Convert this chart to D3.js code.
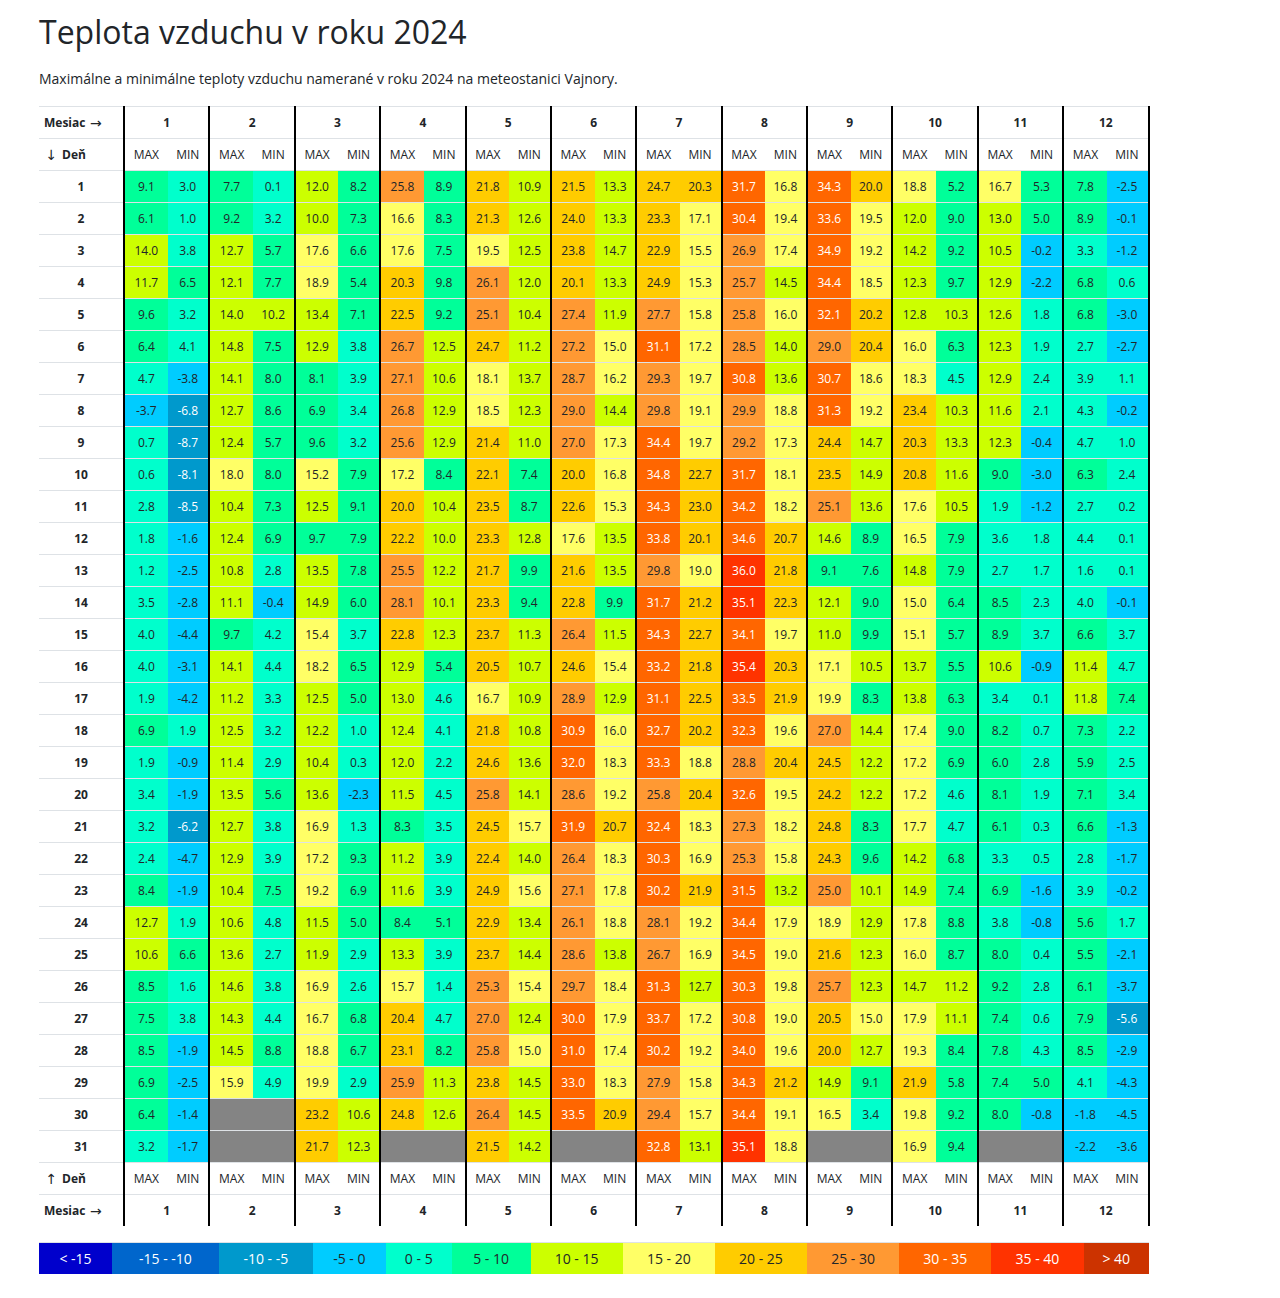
<!DOCTYPE html>
<html lang="sk">
<head>
<meta charset="utf-8">
<title>Teplota vzduchu v roku 2024</title>
<script src="https://cdn.jsdelivr.net/npm/d3@7"></script>
<style>
  html, body { margin: 0; padding: 0; background: #fff; overflow: hidden; }
  svg { display: block; font-family: "Open Sans", sans-serif; }
  text { fill: #212529; }
  .bold { font-weight: 700; }
  .arrow { font-family: "DejaVu Sans", sans-serif; font-size: 14px; }
</style>
</head>
<body>
<div id="chart"></div>
<script>
const titleText = "Teplota vzduchu v roku 2024";
const subtitleText = "Maximálne a minimálne teploty vzduchu namerané v roku 2024 na meteostanici Vajnory.";

const months = ["1", "2", "3", "4", "5", "6", "7", "8", "9", "10", "11", "12"];
const days = d3.range(1, 32).map(String);

const jan = { max: [9.1,6.1,14.0,11.7,9.6,6.4,4.7,-3.7,0.7,0.6,2.8,1.8,1.2,3.5,4.0,4.0,1.9,6.9,1.9,3.4,3.2,2.4,8.4,12.7,10.6,8.5,7.5,8.5,6.9,6.4,3.2],
  min: [3.0,1.0,3.8,6.5,3.2,4.1,-3.8,-6.8,-8.7,-8.1,-8.5,-1.6,-2.5,-2.8,-4.4,-3.1,-4.2,1.9,-0.9,-1.9,-6.2,-4.7,-1.9,1.9,6.6,1.6,3.8,-1.9,-2.5,-1.4,-1.7] };
const feb = { max: [7.7,9.2,12.7,12.1,14.0,14.8,14.1,12.7,12.4,18.0,10.4,12.4,10.8,11.1,9.7,14.1,11.2,12.5,11.4,13.5,12.7,12.9,10.4,10.6,13.6,14.6,14.3,14.5,15.9],
  min: [0.1,3.2,5.7,7.7,10.2,7.5,8.0,8.6,5.7,8.0,7.3,6.9,2.8,-0.4,4.2,4.4,3.3,3.2,2.9,5.6,3.8,3.9,7.5,4.8,2.7,3.8,4.4,8.8,4.9] };
const mar = { max: [12.0,10.0,17.6,18.9,13.4,12.9,8.1,6.9,9.6,15.2,12.5,9.7,13.5,14.9,15.4,18.2,12.5,12.2,10.4,13.6,16.9,17.2,19.2,11.5,11.9,16.9,16.7,18.8,19.9,23.2,21.7],
  min: [8.2,7.3,6.6,5.4,7.1,3.8,3.9,3.4,3.2,7.9,9.1,7.9,7.8,6.0,3.7,6.5,5.0,1.0,0.3,-2.3,1.3,9.3,6.9,5.0,2.9,2.6,6.8,6.7,2.9,10.6,12.3] };
const apr = { max: [25.8,16.6,17.6,20.3,22.5,26.7,27.1,26.8,25.6,17.2,20.0,22.2,25.5,28.1,22.8,12.9,13.0,12.4,12.0,11.5,8.3,11.2,11.6,8.4,13.3,15.7,20.4,23.1,25.9,24.8],
  min: [8.9,8.3,7.5,9.8,9.2,12.5,10.6,12.9,12.9,8.4,10.4,10.0,12.2,10.1,12.3,5.4,4.6,4.1,2.2,4.5,3.5,3.9,3.9,5.1,3.9,1.4,4.7,8.2,11.3,12.6] };
const may = { max: [21.8,21.3,19.5,26.1,25.1,24.7,18.1,18.5,21.4,22.1,23.5,23.3,21.7,23.3,23.7,20.5,16.7,21.8,24.6,25.8,24.5,22.4,24.9,22.9,23.7,25.3,27.0,25.8,23.8,26.4,21.5],
  min: [10.9,12.6,12.5,12.0,10.4,11.2,13.7,12.3,11.0,7.4,8.7,12.8,9.9,9.4,11.3,10.7,10.9,10.8,13.6,14.1,15.7,14.0,15.6,13.4,14.4,15.4,12.4,15.0,14.5,14.5,14.2] };
const jun = { max: [21.5,24.0,23.8,20.1,27.4,27.2,28.7,29.0,27.0,20.0,22.6,17.6,21.6,22.8,26.4,24.6,28.9,30.9,32.0,28.6,31.9,26.4,27.1,26.1,28.6,29.7,30.0,31.0,33.0,33.5],
  min: [13.3,13.3,14.7,13.3,11.9,15.0,16.2,14.4,17.3,16.8,15.3,13.5,13.5,9.9,11.5,15.4,12.9,16.0,18.3,19.2,20.7,18.3,17.8,18.8,13.8,18.4,17.9,17.4,18.3,20.9] };
const jul = { max: [24.7,23.3,22.9,24.9,27.7,31.1,29.3,29.8,34.4,34.8,34.3,33.8,29.8,31.7,34.3,33.2,31.1,32.7,33.3,25.8,32.4,30.3,30.2,28.1,26.7,31.3,33.7,30.2,27.9,29.4,32.8],
  min: [20.3,17.1,15.5,15.3,15.8,17.2,19.7,19.1,19.7,22.7,23.0,20.1,19.0,21.2,22.7,21.8,22.5,20.2,18.8,20.4,18.3,16.9,21.9,19.2,16.9,12.7,17.2,19.2,15.8,15.7,13.1] };
const aug = { max: [31.7,30.4,26.9,25.7,25.8,28.5,30.8,29.9,29.2,31.7,34.2,34.6,36.0,35.1,34.1,35.4,33.5,32.3,28.8,32.6,27.3,25.3,31.5,34.4,34.5,30.3,30.8,34.0,34.3,34.4,35.1],
  min: [16.8,19.4,17.4,14.5,16.0,14.0,13.6,18.8,17.3,18.1,18.2,20.7,21.8,22.3,19.7,20.3,21.9,19.6,20.4,19.5,18.2,15.8,13.2,17.9,19.0,19.8,19.0,19.6,21.2,19.1,18.8] };
const sep = { max: [34.3,33.6,34.9,34.4,32.1,29.0,30.7,31.3,24.4,23.5,25.1,14.6,9.1,12.1,11.0,17.1,19.9,27.0,24.5,24.2,24.8,24.3,25.0,18.9,21.6,25.7,20.5,20.0,14.9,16.5],
  min: [20.0,19.5,19.2,18.5,20.2,20.4,18.6,19.2,14.7,14.9,13.6,8.9,7.6,9.0,9.9,10.5,8.3,14.4,12.2,12.2,8.3,9.6,10.1,12.9,12.3,12.3,15.0,12.7,9.1,3.4] };
const oct = { max: [18.8,12.0,14.2,12.3,12.8,16.0,18.3,23.4,20.3,20.8,17.6,16.5,14.8,15.0,15.1,13.7,13.8,17.4,17.2,17.2,17.7,14.2,14.9,17.8,16.0,14.7,17.9,19.3,21.9,19.8,16.9],
  min: [5.2,9.0,9.2,9.7,10.3,6.3,4.5,10.3,13.3,11.6,10.5,7.9,7.9,6.4,5.7,5.5,6.3,9.0,6.9,4.6,4.7,6.8,7.4,8.8,8.7,11.2,11.1,8.4,5.8,9.2,9.4] };
const nov = { max: [16.7,13.0,10.5,12.9,12.6,12.3,12.9,11.6,12.3,9.0,1.9,3.6,2.7,8.5,8.9,10.6,3.4,8.2,6.0,8.1,6.1,3.3,6.9,3.8,8.0,9.2,7.4,7.8,7.4,8.0],
  min: [5.3,5.0,-0.2,-2.2,1.8,1.9,2.4,2.1,-0.4,-3.0,-1.2,1.8,1.7,2.3,3.7,-0.9,0.1,0.7,2.8,1.9,0.3,0.5,-1.6,-0.8,0.4,2.8,0.6,4.3,5.0,-0.8] };
const dec = { max: [7.8,8.9,3.3,6.8,6.8,2.7,3.9,4.3,4.7,6.3,2.7,4.4,1.6,4.0,6.6,11.4,11.8,7.3,5.9,7.1,6.6,2.8,3.9,5.6,5.5,6.1,7.9,8.5,4.1,-1.8,-2.2],
  min: [-2.5,-0.1,-1.2,0.6,-3.0,-2.7,1.1,-0.2,1.0,2.4,0.2,0.1,0.1,-0.1,3.7,4.7,7.4,2.2,2.5,3.4,-1.3,-1.7,-0.2,1.7,-2.1,-3.7,-5.6,-2.9,-4.3,-4.5,-3.6] };
const year = [jan, feb, mar, apr, may, jun, jul, aug, sep, oct, nov, dec];

// colour classes of the legend, 5 degree steps
const thresholds = [-15, -10, -5, 0, 5, 10, 15, 20, 25, 30, 35, 40];
const classColors = ["#0000cc", "#0066cc", "#0099cc", "#00ccff", "#00ffcc", "#00ff99", "#ccff00",
  "#ffff66", "#ffcc00", "#ff9933", "#ff6600", "#ff3300", "#cc3300"];
const classLabels = ["< -15", "-15 - -10", "-10 - -5", "-5 - 0", "0 - 5", "5 - 10", "10 - 15",
  "15 - 20", "20 - 25", "25 - 30", "30 - 35", "35 - 40", "> 40"];
const classInk = ["#fff", "#fff", "#fff", "#212529", "#212529", "#212529", "#212529",
  "#212529", "#212529", "#212529", "#fff", "#fff", "#fff"];

const width = 1280;
const height = 1298;
const tableLeft = 39;
const tableRight = 1148.5;
const firstColumn = 124;
const tableTop = 106;
const rowStep = 32;
const maxShare = 0.512; // the MAX column is a bit wider than the MIN column
const lineColor = "#dee2e6";
const noDataColor = "#848484";
const textShift = 1; // table text sits a pixel below the middle of its row

const fillScale = d3.scaleThreshold().domain(thresholds).range(classColors);
const inkScale = d3.scaleThreshold().domain(thresholds).range(classInk);

const rowKeys = ["monthTop", "headTop", ...days, "headBottom", "monthBottom"];
const yScale = d3.scaleBand().domain(rowKeys).range([tableTop, tableTop + rowKeys.length * rowStep]);
const xScale = d3.scaleBand().domain(months).range([firstColumn, tableRight]);
const subScale = d3.scaleOrdinal().domain(["MAX", "MIN"])
  .range([maxShare / 2, (1 + maxShare) / 2 - 0.015].map((share) => share * xScale.bandwidth()));
const rowMiddle = (key) => yScale(key) + yScale.bandwidth() / 2 + textShift;

const svg = d3.select("#chart").append("svg").attr("width", width).attr("height", height);

svg.append("text").attr("x", tableLeft).attr("y", 44)
  .style("font-size", "32px").text(titleText);
svg.append("text").attr("x", tableLeft).attr("y", 84)
  .style("font-size", "14px").text(subtitleText);

// flat list of cells, missing days stay as grey cells
const cells = year.flatMap((month, m) =>
  days.flatMap((day, d) => [
    { month: months[m], day, kind: "MAX", value: month.max[d] },
    { month: months[m], day, kind: "MIN", value: month.min[d] },
  ])
);

const cellGroup = svg.append("g");
cellGroup.selectAll("rect").data(cells).join("rect")
  .attr("x", (d) => xScale(d.month) + (d.kind === "MAX" ? 0 : maxShare * xScale.bandwidth()))
  .attr("y", (d) => yScale(d.day))
  .attr("width", (d) => xScale.bandwidth() * (d.kind === "MAX" ? maxShare : 1 - maxShare) + 0.5)
  .attr("height", yScale.bandwidth())
  .attr("shape-rendering", "crispEdges")
  .attr("fill", (d) => (d.value === undefined ? noDataColor : fillScale(d.value)));

cellGroup.selectAll("text").data(cells.filter((d) => d.value !== undefined)).join("text")
  .attr("x", (d) => xScale(d.month) + subScale(d.kind) + 0.5)
  .attr("y", (d) => rowMiddle(d.day))
  .attr("dy", "0.35em")
  .attr("text-anchor", "middle")
  .style("font-size", "12px")
  .style("fill", (d) => inkScale(d.value))
  .text((d) => d3.format(".1f")(d.value).replace("−", "-"));

// horizontal rules above each row
svg.append("g").selectAll("line").data(rowKeys).join("line")
  .attr("x1", tableLeft).attr("x2", tableRight)
  .attr("y1", (d) => yScale(d) + 0.5).attr("y2", (d) => yScale(d) + 0.5)
  .attr("stroke", lineColor);

// month separators
const separatorX = (d) => Math.round(d === "end" ? tableRight : xScale(d));
svg.append("g").selectAll("line").data([...months, "end"]).join("line")
  .attr("x1", separatorX)
  .attr("x2", separatorX)
  .attr("y1", tableTop).attr("y2", tableTop + rowKeys.length * rowStep)
  .attr("stroke", "#000").attr("stroke-width", 2);

// left column labels
const leftLabels = [
  { row: "monthTop", text: "Mesiac", x: 44 },
  { row: "headTop", text: "Deň", x: 62 },
  { row: "headBottom", text: "Deň", x: 62 },
  { row: "monthBottom", text: "Mesiac", x: 44 },
];
svg.append("g").selectAll("text").data(leftLabels).join("text")
  .attr("class", "bold")
  .attr("x", (d) => d.x)
  .attr("y", (d) => rowMiddle(d.row))
  .attr("dy", "0.35em")
  .style("font-size", "12px")
  .text((d) => d.text);

const arrowLabels = [
  { row: "monthTop", text: "→", x: 90 },
  { row: "headTop", text: "↓", x: 45.5 },
  { row: "headBottom", text: "↑", x: 45.5 },
  { row: "monthBottom", text: "→", x: 90 },
];
svg.append("g").selectAll("text").data(arrowLabels).join("text")
  .attr("class", "arrow")
  .attr("x", (d) => d.x)
  .attr("y", (d) => rowMiddle(d.row))
  .attr("dy", "0.35em")
  .text((d) => d.text);

svg.append("g").selectAll("text").data(days).join("text")
  .attr("class", "bold")
  .attr("x", 81)
  .attr("y", (d) => rowMiddle(d))
  .attr("dy", "0.35em")
  .attr("text-anchor", "middle")
  .style("font-size", "12px")
  .text((d) => d);

// month numbers and MAX / MIN headers, top and bottom
["monthTop", "monthBottom"].forEach((row) => {
  svg.append("g").selectAll("text").data(months).join("text")
    .attr("class", "bold")
    .attr("x", (d) => xScale(d) + xScale.bandwidth() / 2)
    .attr("y", rowMiddle(row))
    .attr("dy", "0.35em")
    .attr("text-anchor", "middle")
    .style("font-size", "12px")
    .text((d) => d);
});
["headTop", "headBottom"].forEach((row) => {
  const heads = months.flatMap((month) => subScale.domain().map((kind) => ({ month, kind })));
  svg.append("g").selectAll("text").data(heads).join("text")
    .attr("x", (d) => xScale(d.month) + subScale(d.kind) + 0.5)
    .attr("y", rowMiddle(row))
    .attr("dy", "0.35em")
    .attr("text-anchor", "middle")
    .style("font-size", "12px")
    .text((d) => d.kind);
});

// legend: segment widths follow label width plus padding, like an auto sized table row
const legendTop = 1243;
const legendHeight = 31;
const legendPadding = 12;
const legend = svg.append("g");
const legendLabels = legend.selectAll("text").data(classLabels).join("text")
  .attr("y", legendTop + legendHeight / 2 + textShift)
  .attr("dy", "0.35em")
  .attr("text-anchor", "middle")
  .style("font-size", "14px")
  .style("fill", (d, i) => classInk[i])
  .text((d) => d);
const labelWidths = legendLabels.nodes().map((node) => node.getComputedTextLength() + legendPadding);
const legendEdges = [0, ...d3.cumsum(labelWidths)];
const legendScale = d3.scaleLinear().domain([0, d3.sum(labelWidths)]).range([tableLeft, tableRight + 0.5]);
legend.selectAll("rect").data(classColors).join("rect")
  .attr("x", (d, i) => legendScale(legendEdges[i]))
  .attr("y", legendTop)
  .attr("width", (d, i) => legendScale(legendEdges[i + 1]) - legendScale(legendEdges[i]))
  .attr("height", legendHeight)
  .attr("shape-rendering", "crispEdges")
  .attr("fill", (d) => d)
  .lower();
legendLabels.attr("x", (d, i) => (legendScale(legendEdges[i]) + legendScale(legendEdges[i + 1])) / 2);
legend.append("line")
  .attr("x1", tableLeft).attr("x2", tableRight + 0.5)
  .attr("y1", legendTop - 0.5).attr("y2", legendTop - 0.5)
  .attr("stroke", lineColor);
</script>
</body>
</html>
